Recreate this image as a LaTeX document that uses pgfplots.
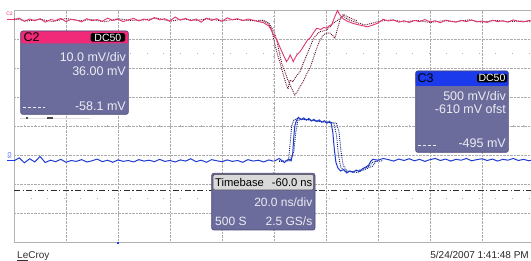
\documentclass[border=0pt]{standalone}
\usepackage{pgfplots}
\pgfplotsset{compat=1.18}
\usepackage{fontspec}
\setmainfont{Liberation Sans}
\definecolor{slate}{HTML}{6C6C9C}
\definecolor{slateb}{HTML}{4A4A78}
\definecolor{c2pink}{HTML}{F02A78}
\definecolor{c3blue}{HTML}{1A3AEC}
\definecolor{trpink}{HTML}{E0356E}
\definecolor{trdark}{HTML}{5E0C2C}
\definecolor{trblue}{HTML}{1E3CD0}
\definecolor{trnavy}{HTML}{0E1A78}
\definecolor{boxtxt}{HTML}{ECECF4}
\begin{document}
\begin{tikzpicture}
\path[use as bounding box] (-14pt,-19pt) rectangle (517pt,242pt);
\begin{axis}[at={(0pt,0pt)}, anchor=south west, width=520pt, height=232pt, scale only axis,
  xmin=0, xmax=10, ymin=-4, ymax=4,
  xtick={1,...,9}, ytick={-3,...,3}, xticklabels={}, yticklabels={},
  major tick length=0pt, grid=major,
  major grid style={gray!65, densely dotted, line width=0.55pt},
  axis line style={gray!60, line width=0.6pt}]
% sparse dot rows
\addplot[gray!60, line width=0.8pt, dash pattern=on 0.8pt off 15.8pt] coordinates {(0,2.5) (10,2.5)};
\addplot[gray!60, line width=0.8pt, dash pattern=on 0.8pt off 15.8pt] coordinates {(0,-2.5) (10,-2.5)};
% dash-dot level
\addplot[gray!35!black, line width=0.6pt, dash pattern=on 6pt off 2.5pt on 1.2pt off 2.5pt] coordinates {(0,-2.21) (10,-2.21)};
% C2 dark persistence traces
\addplot[trdark, line width=0.9pt, densely dotted] coordinates {
(0.0,3.70) (0.25,3.62) (0.5,3.68) (0.75,3.60) (1.0,3.71) (1.25,3.63) (1.5,3.67) (1.75,3.59) (2.0,3.70) (2.25,3.64) (2.5,3.66) (2.75,3.72) (3.0,3.61) (3.25,3.69) (3.5,3.64) (3.75,3.70) (4.0,3.62) (4.25,3.68) (4.5,3.64) (4.7,3.62)
(4.8,3.62) (4.9,3.52) (4.96,3.30) (5.02,2.79) (5.07,2.45) (5.12,2.16) (5.18,1.76) (5.24,1.41) (5.27,1.28) (5.31,1.59) (5.36,1.52) (5.42,1.70) (5.5,1.87) (5.56,2.15) (5.63,2.45) (5.7,2.75) (5.76,3.02) (5.82,3.15) (5.88,3.25) (5.95,3.28) (6.01,3.31) (6.08,3.42) (6.14,3.54) (6.2,3.62) (6.27,3.71) (6.33,3.80) (6.4,3.70) (6.5,3.62)
(6.75,3.48) (7.0,3.60) (7.25,3.66) (7.5,3.59) (7.75,3.64) (8.0,3.57) (8.25,3.63) (8.5,3.60) (8.75,3.66) (9.0,3.58) (9.25,3.64) (9.5,3.60) (9.75,3.62) (10.0,3.58)};
\addplot[trdark, line width=0.9pt, densely dotted] coordinates {
(4.7,3.64) (4.8,3.64) (4.9,3.55) (5.0,3.25) (5.05,2.97) (5.1,2.55) (5.15,2.15) (5.21,1.87) (5.26,1.62) (5.31,1.41) (5.36,1.22) (5.40,1.07) (5.44,1.16) (5.5,1.35) (5.56,1.53) (5.63,1.80) (5.69,1.99) (5.76,2.35) (5.82,2.68) (5.88,2.95) (5.95,3.14) (6.01,3.20) (6.08,3.20) (6.14,3.10) (6.17,3.02) (6.22,3.35) (6.27,3.66) (6.33,3.85) (6.4,3.78) (6.5,3.70) (6.6,3.62)};
% C2 main trace
\addplot[trpink, line width=0.9pt] coordinates {
(0.0,3.66) (0.1,3.72) (0.2,3.61) (0.3,3.69) (0.4,3.63) (0.5,3.70) (0.6,3.58) (0.7,3.67) (0.8,3.64) (0.9,3.71)
(1.0,3.60) (1.1,3.68) (1.2,3.65) (1.3,3.59) (1.4,3.70) (1.5,3.63) (1.6,3.67) (1.7,3.61) (1.8,3.72) (1.9,3.64)
(2.0,3.68) (2.1,3.60) (2.2,3.66) (2.3,3.71) (2.4,3.62) (2.5,3.69) (2.6,3.64) (2.7,3.74) (2.8,3.66) (2.9,3.70)
(3.0,3.62) (3.1,3.76) (3.2,3.65) (3.3,3.71) (3.4,3.63) (3.5,3.69) (3.6,3.58) (3.7,3.72) (3.8,3.64) (3.9,3.70)
(4.0,3.61) (4.1,3.73) (4.2,3.66) (4.3,3.70) (4.4,3.63) (4.5,3.69) (4.6,3.65) (4.7,3.60) (4.8,3.56) (4.9,3.45)
(4.95,3.30) (5.0,3.12) (5.06,2.95) (5.12,2.69) (5.18,2.45) (5.24,2.22) (5.28,2.32) (5.31,2.45) (5.34,2.35) (5.37,2.22)
(5.41,2.36) (5.44,2.45) (5.5,2.56) (5.58,2.78) (5.64,2.95) (5.7,3.05) (5.76,3.22) (5.82,3.37) (5.9,3.33) (5.96,3.40)
(6.01,3.37) (6.06,3.45) (6.11,3.50) (6.17,3.77) (6.22,3.98) (6.27,3.82) (6.33,3.70) (6.4,3.62) (6.5,3.55) (6.6,3.50)
(6.7,3.46) (6.8,3.42) (6.9,3.48) (7.0,3.55) (7.1,3.68) (7.2,3.62) (7.3,3.66) (7.4,3.58) (7.5,3.63) (7.6,3.57)
(7.7,3.64) (7.8,3.60) (7.9,3.67) (8.0,3.59) (8.1,3.63) (8.2,3.56) (8.3,3.65) (8.4,3.61) (8.5,3.58) (8.6,3.64)
(8.7,3.60) (8.8,3.66) (8.9,3.59) (9.0,3.62) (9.1,3.57) (9.2,3.65) (9.3,3.60) (9.4,3.63) (9.5,3.58) (9.6,3.66)
(9.7,3.61) (9.8,3.59) (9.9,3.64) (10.0,3.60)};
% C3 persistence traces
\addplot[trnavy, line width=0.9pt, densely dotted] coordinates {
(5.1,-1.20) (5.2,-1.22) (5.28,-1.18) (5.31,-0.6) (5.34,0.0) (5.38,0.2) (5.45,0.26) (5.6,0.22) (5.8,0.18) (6.0,0.13) (6.15,0.10) (6.2,-0.3) (6.24,-1.0) (6.28,-1.4) (6.35,-1.55) (6.5,-1.58) (6.65,-1.52) (6.8,-1.42) (6.9,-1.25) (7.0,-1.20)};
\addplot[trnavy, line width=0.9pt, densely dotted] coordinates {
(5.1,-1.22) (5.3,-1.20) (5.38,-0.9) (5.42,-0.2) (5.46,0.2) (5.6,0.24) (5.8,0.18) (6.0,0.14) (6.2,0.10) (6.25,-0.2) (6.29,-0.9) (6.33,-1.35) (6.4,-1.55) (6.6,-1.60) (6.75,-1.50) (6.9,-1.38) (6.96,-1.22) (7.1,-1.20)};
% C3 main trace
\addplot[trblue, line width=1pt] coordinates {
(0.0,-1.20) (0.1,-1.10) (0.2,-1.27) (0.3,-1.13) (0.4,-1.24) (0.5,-1.05) (0.6,-1.26) (0.7,-1.18) (0.8,-1.23) (0.9,-1.15)
(1.0,-1.25) (1.1,-1.19) (1.2,-1.22) (1.3,-1.16) (1.4,-1.24) (1.5,-1.20) (1.6,-1.14) (1.7,-1.23) (1.8,-1.18) (1.9,-1.25)
(2.0,-1.17) (2.1,-1.22) (2.2,-1.19) (2.3,-1.24) (2.4,-1.16) (2.5,-1.21) (2.6,-1.18) (2.7,-1.23) (2.8,-1.15) (2.9,-1.22)
(3.0,-1.19) (3.1,-1.24) (3.2,-1.17) (3.3,-1.21) (3.4,-1.13) (3.5,-1.23) (3.6,-1.18) (3.7,-1.25) (3.8,-1.16) (3.9,-1.20)
(4.0,-1.23) (4.1,-1.17) (4.2,-1.22) (4.3,-1.19) (4.4,-1.25) (4.5,-1.16) (4.6,-1.21) (4.7,-1.18) (4.8,-1.24) (4.9,-1.17)
(5.0,-1.22) (5.1,-1.12) (5.2,-1.26) (5.28,-1.14) (5.33,-1.20) (5.36,-0.95) (5.38,-0.40) (5.40,0.00) (5.43,0.18) (5.47,0.30)
(5.52,0.22) (5.57,0.28) (5.62,0.20) (5.67,0.26) (5.72,0.17) (5.77,0.23) (5.82,0.15) (5.87,0.21) (5.92,0.13) (5.97,0.18)
(6.02,0.10) (6.07,0.16) (6.10,0.08) (6.13,-0.20) (6.16,-0.80) (6.19,-1.25) (6.23,-1.45) (6.28,-1.55) (6.34,-1.50) (6.40,-1.62)
(6.46,-1.55) (6.52,-1.60) (6.58,-1.52) (6.64,-1.57) (6.70,-1.48) (6.76,-1.42) (6.82,-1.35) (6.86,-1.22) (6.9,-1.15) (7.0,-1.18)
(7.1,-1.12) (7.2,-1.16) (7.3,-1.21) (7.4,-1.14) (7.5,-1.19) (7.6,-1.13) (7.7,-1.20) (7.8,-1.15) (7.9,-1.22) (8.0,-1.16)
(8.1,-1.12) (8.2,-1.19) (8.3,-1.14) (8.4,-1.21) (8.5,-1.15) (8.6,-1.18) (8.7,-1.12) (8.8,-1.20) (8.9,-1.16) (9.0,-1.13)
(9.1,-1.19) (9.2,-1.14) (9.3,-1.21) (9.4,-1.15) (9.5,-1.18) (9.6,-1.12) (9.7,-1.19) (9.8,-1.15) (9.9,-1.20) (10.0,-1.16)};
\end{axis}
% centre cross minor ticks
\foreach \i in {0,...,50} \draw[gray!60, line width=0.5pt] ({\i*10.4pt},114.6pt) -- ({\i*10.4pt},117.4pt);
\foreach \j in {0,...,40} \draw[gray!60, line width=0.5pt] (258.6pt,{\j*5.8pt}) -- (261.4pt,{\j*5.8pt});
% channel markers
\node[font=\fontsize{5}{5}\selectfont, text=c2pink, inner sep=0pt] at (-4.5pt,228pt) {C2};
\draw[c2pink, line width=0.8pt] (-7pt,222.5pt) -- (0pt,222.5pt);
\node[font=\fontsize{5}{5}\selectfont, text=c3blue, inner sep=0pt, rotate=-90] at (-4.5pt,86.5pt) {C3};
\draw[c3blue, line width=0.8pt] (-7pt,81.3pt) -- (0pt,81.3pt);
\fill[c3blue] (103.3pt,-2pt) rectangle (104.7pt,0.3pt);
% C2 box
\fill[slate, rounded corners=2pt] (6.7pt,127.7pt) rectangle (114.3pt,211pt);
\fill[c2pink, rounded corners=2pt] (6.7pt,198.7pt) rectangle (114.3pt,211pt);
\fill[c2pink] (6.7pt,198.7pt) rectangle (114.3pt,203pt);
\draw[slateb, rounded corners=2pt, line width=0.6pt] (6.7pt,127.7pt) rectangle (114.3pt,211pt);
\node[anchor=west, inner sep=0pt, font=\fontsize{12.5}{12.5}\selectfont] at (9.5pt,204.8pt) {C2};
\fill[black, rounded corners=1.5pt] (76.7pt,200.3pt) rectangle (111pt,208.8pt);
\node[inner sep=0pt, text=white, font=\fontsize{10.5}{10.5}\selectfont] at (93.85pt,204.5pt) {DC50};
\node[anchor=base east, inner sep=0pt, text=boxtxt, font=\fontsize{12.5}{12.5}\selectfont] at (112pt,180pt) {10.0 mV/div};
\node[anchor=base east, inner sep=0pt, text=boxtxt, font=\fontsize{12.5}{12.5}\selectfont] at (112pt,166pt) {36.00 mV};
\node[anchor=base east, inner sep=0pt, text=boxtxt, font=\fontsize{12.5}{12.5}\selectfont] at (112pt,131pt) {-58.1 mV};
\draw[boxtxt, line width=0.6pt, dash pattern=on 3pt off 2pt] (9pt,135pt) -- (31pt,135pt);
% scroll marks under C2 box
\draw[gray!25, line width=0.6pt] (6pt,124pt) -- (76pt,124pt);
\fill[black!70] (12pt,123.2pt) rectangle (14pt,124.8pt);
\fill[black!70] (33pt,123.4pt) rectangle (39pt,124.6pt);
% C3 box
\fill[slate, rounded corners=2pt] (401.7pt,89.7pt) rectangle (494.3pt,171pt);
\fill[c3blue, rounded corners=2pt] (401.7pt,156pt) rectangle (494.3pt,171pt);
\fill[c3blue] (401.7pt,156pt) rectangle (494.3pt,160pt);
\draw[slateb, rounded corners=2pt, line width=0.6pt] (401.7pt,89.7pt) rectangle (494.3pt,171pt);
\node[anchor=west, inner sep=0pt, font=\fontsize{12.5}{12.5}\selectfont] at (403.5pt,163.5pt) {C3};
\fill[black, rounded corners=1.5pt] (463pt,159.5pt) rectangle (493pt,168pt);
\node[inner sep=0pt, text=white, font=\fontsize{10.5}{10.5}\selectfont] at (478pt,163.7pt) {DC50};
\node[anchor=base east, inner sep=0pt, text=boxtxt, font=\fontsize{12.5}{12.5}\selectfont] at (492pt,141pt) {500 mV/div};
\node[anchor=base east, inner sep=0pt, text=boxtxt, font=\fontsize{12.5}{12.5}\selectfont] at (492pt,128pt) {-610 mV ofst};
\node[anchor=base east, inner sep=0pt, text=boxtxt, font=\fontsize{12.5}{12.5}\selectfont] at (492pt,94pt) {-495 mV};
\draw[boxtxt, line width=0.6pt, dash pattern=on 3pt off 2pt] (404pt,97pt) -- (423pt,97pt);
% Timebase box
\fill[slate, rounded corners=2pt] (197.7pt,12pt) rectangle (301pt,68.7pt);
\draw[slateb, rounded corners=2pt, line width=0.6pt] (197.7pt,12pt) rectangle (301pt,68.7pt);
\fill[gray!30, draw=gray!60!black, line width=0.5pt, rounded corners=1.5pt] (199pt,52pt) rectangle (299.7pt,67.4pt);
\node[anchor=base west, inner sep=0pt, font=\fontsize{11.2}{11.2}\selectfont] at (201pt,55.5pt) {Timebase};
\node[anchor=base east, inner sep=0pt, font=\fontsize{11.2}{11.2}\selectfont] at (298.5pt,55.5pt) {-60.0 ns};
\node[anchor=base east, inner sep=0pt, text=boxtxt, font=\fontsize{12}{12}\selectfont] at (298.5pt,35pt) {20.0 ns/div};
\node[anchor=base west, inner sep=0pt, text=boxtxt, font=\fontsize{12}{12}\selectfont] at (201pt,16pt) {500 S};
\node[anchor=base east, inner sep=0pt, text=boxtxt, font=\fontsize{12}{12}\selectfont] at (298.5pt,16pt) {2.5 GS/s};
% footer
\node[anchor=base west, inner sep=0pt, text=black!80, font=\fontsize{10}{10}\selectfont] at (3pt,-17pt) {LeCroy};
\draw[black!80, line width=0.5pt] (3pt,-18.3pt) -- (14pt,-18.3pt);
\node[anchor=base east, inner sep=0pt, text=black!85, font=\fontsize{10}{10}\selectfont] at (515pt,-17pt) {5/24/2007 1:41:48 PM};
\end{tikzpicture}
\end{document}
